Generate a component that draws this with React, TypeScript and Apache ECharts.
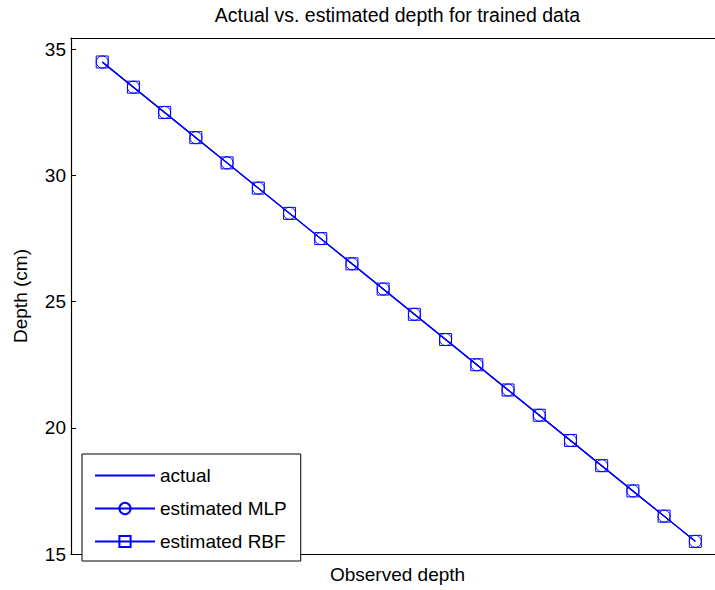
import React, { useEffect, useRef } from "react";
import * as echarts from "echarts";

const observedIndex = [1, 2, 3, 4, 5, 6, 7, 8, 9, 10, 11, 12, 13, 14, 15, 16, 17, 18, 19, 20];
const actualDepth = [34.5, 33.5, 32.5, 31.5, 30.5, 29.5, 28.5, 27.5, 26.5, 25.5, 24.5, 23.5, 22.5, 21.5, 20.5, 19.5, 18.5, 17.5, 16.5, 15.5];
const mlpDepth = [34.5, 33.5, 32.5, 31.5, 30.5, 29.5, 28.5, 27.5, 26.5, 25.5, 24.5, 23.5, 22.5, 21.5, 20.5, 19.5, 18.5, 17.5, 16.5, 15.5];
const rbfDepth = [34.5, 33.5, 32.5, 31.5, 30.5, 29.5, 28.5, 27.5, 26.5, 25.5, 24.5, 23.5, 22.5, 21.5, 20.5, 19.5, 18.5, 17.5, 16.5, 15.5];
const seriesNames = ["actual", "estimated MLP", "estimated RBF"];
const titleText = "Actual vs. estimated depth for trained data";
const xName = "Observed depth";
const yName = "Depth (cm)";

const FONT = "Liberation Sans, Arial, Helvetica, sans-serif";
const BLUE = "#0000ff";

const pairs = (vals: number[]) => observedIndex.map((x, i) => [x, vals[i]]);

export default function App() {
  const ref = useRef<HTMLDivElement>(null);
  useEffect(() => {
    if (!ref.current) return;
    document.body.style.margin = "0";
    const chart = echarts.init(ref.current, undefined, { renderer: "svg" });
    chart.setOption({
      animation: false,
      backgroundColor: "#ffffff",
      graphic: [
        {
          type: "text",
          x: 397.5,
          y: 15,
          style: {
            text: titleText,
            fontFamily: FONT,
            fontSize: 19.5,
            fill: "#000",
            align: "center",
            verticalAlign: "middle",
          },
        },
      ],
      grid: { left: 71, top: 38, right: 0, height: 516, containLabel: false },
      legend: {
        orient: "vertical",
        left: 82,
        top: 454,
        padding: [12, 14, 10, 12],
        itemWidth: 60,
        itemHeight: 14,
        itemGap: 14,
        borderColor: "#000",
        borderWidth: 1,
        backgroundColor: "#fff",
        textStyle: { fontFamily: FONT, fontSize: 19, color: "#000" },
        data: [
          { name: seriesNames[0], itemStyle: { opacity: 0 } },
          seriesNames[1],
          seriesNames[2],
        ],
      },
      xAxis: [
        {
          type: "value",
          min: 0,
          max: 20.63,
          name: xName,
          nameLocation: "middle",
          nameGap: 11,
          nameTextStyle: { fontFamily: FONT, fontSize: 19, color: "#000", padding: [0, 0, 0, 9] },
          axisLine: { show: true, onZero: false, lineStyle: { color: "#000", width: 1.2 } },
          axisTick: { show: false },
          axisLabel: { show: false },
          splitLine: { show: false },
        },
        {
          type: "value",
          position: "top",
          min: 0,
          max: 20.63,
          axisLine: { show: true, onZero: false, lineStyle: { color: "#000", width: 1.2 } },
          axisTick: { show: false },
          axisLabel: { show: false },
          splitLine: { show: false },
        },
      ],
      yAxis: {
        type: "value",
        min: 15,
        max: 35.45,
        interval: 5,
        name: yName,
        nameLocation: "middle",
        nameRotate: 90,
        nameGap: 41,
        nameTextStyle: { fontFamily: FONT, fontSize: 19, color: "#000" },
        axisLine: { show: true, onZero: false, lineStyle: { color: "#000", width: 1.2 } },
        axisTick: { show: true, inside: true, length: 5, lineStyle: { color: "#000" } },
        axisLabel: {
          fontFamily: FONT,
          fontSize: 19,
          color: "#000",
          margin: 5,
          showMaxLabel: false,
          formatter: (v: number) => (Number.isInteger(v) ? String(v) : ""),
        },
        splitLine: { show: false },
      },
      series: [
        {
          name: seriesNames[0],
          type: "line",
          data: pairs(actualDepth),
          symbol: "none",
          lineStyle: { color: BLUE, width: 1.2 },
          itemStyle: { color: BLUE },
        },
        {
          name: seriesNames[1],
          type: "line",
          data: pairs(mlpDepth),
          symbol: "circle",
          symbolSize: 12,
          showAllSymbol: true,
          lineStyle: { color: BLUE, width: 1.2 },
          itemStyle: { color: "rgba(0,0,0,0)", borderColor: BLUE, borderWidth: 1 },
        },
        {
          name: seriesNames[2],
          type: "line",
          data: pairs(rbfDepth),
          symbol: "rect",
          symbolSize: 12,
          showAllSymbol: true,
          lineStyle: { color: BLUE, width: 1.2 },
          itemStyle: { color: "rgba(0,0,0,0)", borderColor: BLUE, borderWidth: 1 },
        },
      ],
    });
    return () => chart.dispose();
  }, []);
  return <div ref={ref} style={{ width: 715, height: 590 }} />;
}
